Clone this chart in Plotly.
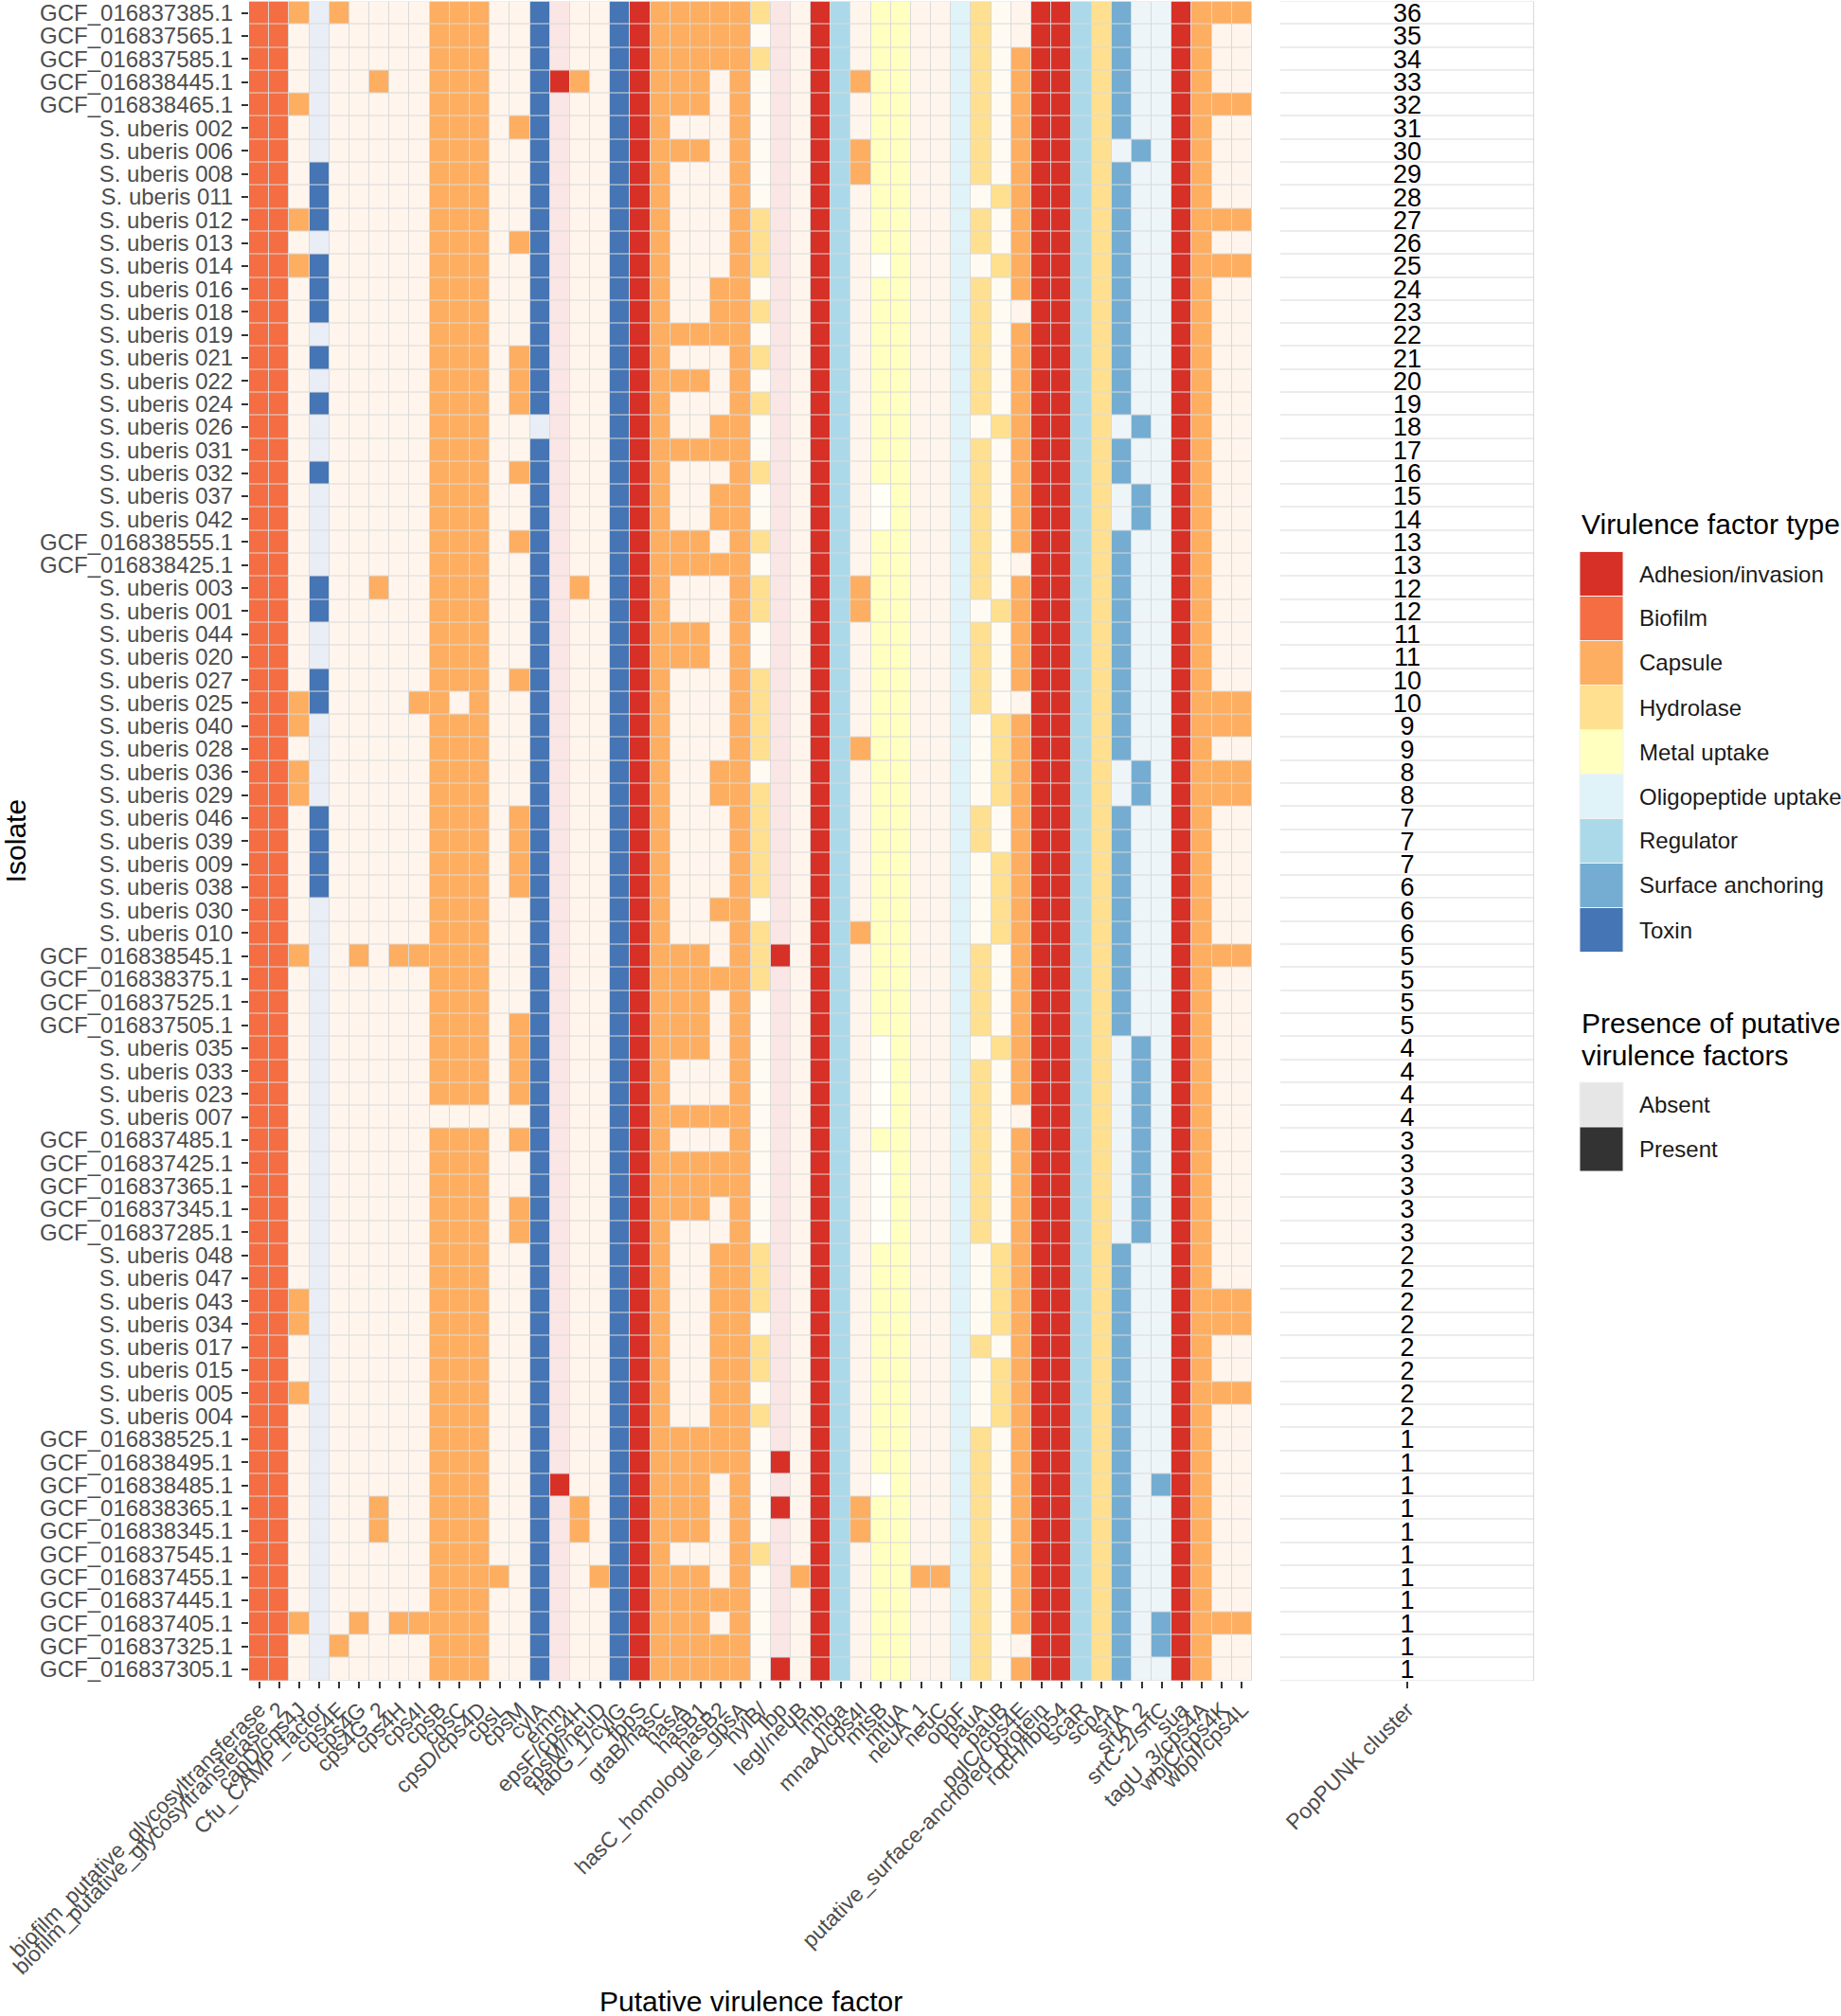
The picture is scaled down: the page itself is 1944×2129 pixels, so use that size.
import plotly.graph_objects as go

W, H = 1944, 2129
FONT = "Liberation Sans, Arial, Helvetica, sans-serif"

isolates = [
    "GCF_016837385.1", "GCF_016837565.1", "GCF_016837585.1", "GCF_016838445.1", "GCF_016838465.1",
    "S. uberis 002", "S. uberis 006", "S. uberis 008", "S. uberis 011", "S. uberis 012",
    "S. uberis 013", "S. uberis 014", "S. uberis 016", "S. uberis 018", "S. uberis 019",
    "S. uberis 021", "S. uberis 022", "S. uberis 024", "S. uberis 026", "S. uberis 031",
    "S. uberis 032", "S. uberis 037", "S. uberis 042", "GCF_016838555.1", "GCF_016838425.1",
    "S. uberis 003", "S. uberis 001", "S. uberis 044", "S. uberis 020", "S. uberis 027",
    "S. uberis 025", "S. uberis 040", "S. uberis 028", "S. uberis 036", "S. uberis 029",
    "S. uberis 046", "S. uberis 039", "S. uberis 009", "S. uberis 038", "S. uberis 030",
    "S. uberis 010", "GCF_016838545.1", "GCF_016838375.1", "GCF_016837525.1", "GCF_016837505.1",
    "S. uberis 035", "S. uberis 033", "S. uberis 023", "S. uberis 007", "GCF_016837485.1",
    "GCF_016837425.1", "GCF_016837365.1", "GCF_016837345.1", "GCF_016837285.1", "S. uberis 048",
    "S. uberis 047", "S. uberis 043", "S. uberis 034", "S. uberis 017", "S. uberis 015",
    "S. uberis 005", "S. uberis 004", "GCF_016838525.1", "GCF_016838495.1", "GCF_016838485.1",
    "GCF_016838365.1", "GCF_016838345.1", "GCF_016837545.1", "GCF_016837455.1", "GCF_016837445.1",
    "GCF_016837405.1", "GCF_016837325.1", "GCF_016837305.1",
]

clusters = [
    36, 35, 34, 33, 32, 31, 30, 29, 28, 27, 26, 25, 24, 23, 22, 21, 20, 19, 18, 17,
    16, 15, 14, 13, 13, 12, 12, 11, 11, 10, 10, 9, 9, 8, 8, 7, 7, 7, 6, 6,
    6, 5, 5, 5, 5, 4, 4, 4, 4, 3, 3, 3, 3, 3, 2, 2, 2, 2, 2, 2,
    2, 2, 1, 1, 1, 1, 1, 1, 1, 1, 1, 1, 1,
]

factors = [
    "biofilm_putative_glycosyltransferase", "biofilm_putative_glycosyltransferase_2", "capD/cps4J",
    "Cfu_CAMP_factor", "cps4E", "cps4G", "cps4G_2", "cps4H", "cps4I", "cpsB",
    "cpsC", "cpsD/cps4D", "cpsL", "cpsM", "cylA", "emm", "epsF/cps4H", "epsM/neuD",
    "fabG_1/cylG", "fbpS", "gtaB/hasC", "hasA", "hasB1", "hasB2", "hasC_homologue_gpsA",
    "hylB/", "lbp", "legI/neuB", "lmb", "mga", "mnaA/cps4I", "mtsB", "mtuA", "neuA_1",
    "neuC", "oppF", "pauA", "pauB", "pglC/cps4E", "putative_surface-anchored_protein",
    "rqcH/fbp54", "scaR", "scpA", "srtA", "srtA_2", "srtC-2/srtC", "sua", "tagU_3/cps4A",
    "wbjC/cps4K", "wbpI/cps4L",
]

factor_types = [
    "Biofilm", "Biofilm", "Capsule", "Toxin", "Capsule", "Capsule", "Capsule", "Capsule", "Capsule", "Capsule",
    "Capsule", "Capsule", "Capsule", "Capsule", "Toxin", "Adhesion/invasion", "Capsule", "Capsule",
    "Toxin", "Adhesion/invasion", "Capsule", "Capsule", "Capsule", "Capsule", "Capsule",
    "Hydrolase", "Adhesion/invasion", "Capsule", "Adhesion/invasion", "Regulator", "Capsule",
    "Metal uptake", "Metal uptake", "Capsule", "Capsule", "Oligopeptide uptake", "Hydrolase",
    "Hydrolase", "Capsule", "Adhesion/invasion", "Adhesion/invasion", "Regulator", "Hydrolase",
    "Surface anchoring", "Surface anchoring", "Surface anchoring", "Adhesion/invasion", "Capsule",
    "Capsule", "Capsule",
]

type_order = ["Adhesion/invasion", "Biofilm", "Capsule", "Hydrolase", "Metal uptake",
              "Oligopeptide uptake", "Regulator", "Surface anchoring", "Toxin"]
type_colors = ["#D73027", "#F46D43", "#FDAE61", "#FEE090", "#FFFFBF",
               "#E0F3F8", "#ABD9E9", "#74ADD1", "#4575B4"]
presence_labels = ["Absent", "Present"]
presence_key_colors = ["#E6E6E6", "#333333"]

# one string per isolate, one character per virulence factor (1 = present, 0 = absent)
presence_rows = [
    "1110100001 1100100011 1111110011 0110011001 1111001111",
    "1100000001 1100100011 1111100011 0110011001 1111001100",
    "1100000001 1100100011 1111110011 0110011011 1111001100",
    "1100001001 1100111011 1110100011 1110011011 1111001100",
    "1110000001 1100100011 1110100011 0110011011 1111001111",
    "1100000001 1101100011 1000100011 0110011011 1111001100",
    "1100000001 1100100011 1110100011 1110011011 1110101100",
    "1101000001 1100100011 1000100011 1110011011 1111001100",
    "1101000001 1100100011 1000100011 0110010111 1111001100",
    "1111000001 1100100011 1000110011 0110011011 1111001111",
    "1100000001 1101100011 1000110011 0110011011 1111001100",
    "1111000001 1100100011 1000110011 0010010111 1111001111",
    "1101000001 1100100011 1001100011 0110011011 1111001100",
    "1101000001 1100100011 1001110011 0110011001 1111001100",
    "1100000001 1100100011 1111100011 0110011011 1111001100",
    "1101000001 1101100011 1000110011 0110011011 1111001100",
    "1100000001 1101100011 1110100011 0110011011 1111001100",
    "1101000001 1101100011 1000110011 0110011011 1111001100",
    "1100000001 1100000011 1001100011 0110010111 1110101100",
    "1100000001 1100100011 1111100011 0110011011 1111001100",
    "1101000001 1101100011 1000110011 0110011011 1111001100",
    "1100000001 1100100011 1001100011 0010011011 1110101100",
    "1100000001 1100100011 1001100011 0010011011 1110101100",
    "1100000001 1101100011 1110110011 0110011011 1111001100",
    "1100000001 1100100011 1111100011 0110011001 1111001100",
    "1101001001 1100101011 1000110011 1110011011 1111001100",
    "1101000001 1100100011 1000110011 1110010111 1111001100",
    "1100000001 1100100011 1110100011 0110011011 1111001100",
    "1100000001 1100100011 1110100011 0110011011 1111001100",
    "1101000001 1101100011 1000110011 0110011011 1111001100",
    "1111000011 0100100011 1000110011 0110011001 1111001111",
    "1110000001 1100100011 1000110011 0110010111 1111001111",
    "1100000001 1100100011 1000110011 1110010111 1111001100",
    "1110000001 1100100011 1001100011 0110010111 1110101111",
    "1110000001 1100100011 1001110011 0110010111 1110101111",
    "1101000001 1101100011 1000110011 0110011011 1111001100",
    "1101000001 1101100011 1000110011 0110011011 1111001100",
    "1101000001 1101100011 1000110011 0110010111 1111001100",
    "1101000001 1101100011 1000110011 0110010111 1111001100",
    "1100000001 1100100011 1001100011 0110010111 1111001100",
    "1100000001 1100100011 1000110011 1110010111 1111001100",
    "1110010111 1100100011 1110111011 0110011011 1111001111",
    "1100000001 1100100011 1111110011 0110011011 1111001100",
    "1100000001 1100100011 1110100011 0110011011 1111001100",
    "1100000001 1101100011 1110100011 0110011011 1111001100",
    "1100000001 1101100011 1110100011 0010010111 1110101100",
    "1100000001 1101100011 1000100011 0010011011 1110101100",
    "1100000001 1101100011 1000100011 0010011011 1110101100",
    "1100000000 0000100011 1111100011 0010011001 1110101100",
    "1100000001 1101100011 1000100011 0110011011 1110101100",
    "1100000001 1100100011 1111100011 0010011011 1110101100",
    "1100000001 1100100011 1111100011 0010011011 1110101100",
    "1100000001 1101100011 1110100011 0010011011 1110101100",
    "1100000001 1101100011 1000100011 0010011011 1110101100",
    "1100000001 1100100011 1001110011 0110010111 1111001100",
    "1100000001 1100100011 1001110011 0110010111 1111001100",
    "1110000001 1100100011 1001110011 0110010111 1111001111",
    "1110000001 1100100011 1001100011 0110010111 1111001111",
    "1100000001 1100100011 1001110011 0110011011 1111001100",
    "1100000001 1100100011 1001110011 0110010111 1111001100",
    "1110000001 1100100011 1001100011 0110010111 1111001111",
    "1100000001 1100100011 1001110011 0110010111 1111001100",
    "1100000001 1100100011 1111100011 0110011011 1111001100",
    "1100000001 1100100011 1111101011 0110011011 1111001100",
    "1100000001 1100110011 1110100011 0010011011 1111011100",
    "1100001001 1100101011 1110101011 1110011011 1111001100",
    "1100001001 1100101011 1110100011 1110011011 1111001100",
    "1100000001 1100100011 1000110011 0110011011 1111001100",
    "1100000001 1110100111 1110100111 0111111011 1111001100",
    "1100000001 1100100011 1111100011 0110011011 1111001100",
    "1110010111 1100100011 1110100011 0110011011 1111011111",
    "1100100001 1100100011 1111100011 0110011001 1111011100",
    "1100000001 1100100011 1111101011 0110011011 1111001100",
]


def fade(hexcol, alpha=0.12):
    h = hexcol.lstrip("#")
    r, g, b = (int(h[i:i + 2], 16) for i in (0, 2, 4))
    mix = lambda c: round(255 * (1 - alpha) + c * alpha)
    return "#%02X%02X%02X" % (mix(r), mix(g), mix(b))


# discrete colour scale: code = 2 * type_index + presence
ncodes = 2 * len(type_order)
colorscale = []
for k in range(ncodes):
    t, p = divmod(k, 2)
    col = type_colors[t] if p == 1 else fade(type_colors[t])
    colorscale.append([k / ncodes, col])
    colorscale.append([(k + 1) / ncodes, col])

z, hover = [], []
for iso, row in zip(isolates, presence_rows):
    bits = row.replace(" ", "")
    zr, hr = [], []
    for f, ftype, b in zip(factors, factor_types, bits):
        p = int(b)
        zr.append(2 * type_order.index(ftype) + p)
        hr.append(f"{iso}<br>{f}<br>{ftype}<br>{presence_labels[p]}")
    z.append(zr)
    hover.append(hr)

# pixel -> paper helpers
px = lambda x: x / W
py = lambda y: 1 - y / H

PANEL_TOP, PANEL_BOT = 1.5, 1775
HM_L, HM_R = 263, 1322
CL_L, CL_R = 1352, 1620
n = len(isolates)

fig = go.Figure()
fig.add_trace(go.Heatmap(
    x=factors, y=isolates, z=z, text=hover, hoverinfo="text",
    colorscale=colorscale, zmin=-0.5, zmax=ncodes - 0.5, showscale=False,
    xgap=1, ygap=1, xaxis="x", yaxis="y",
))
fig.add_trace(go.Heatmap(
    x=["PopPUNK cluster"], y=isolates, z=[[c] for c in clusters],
    text=[[str(c)] for c in clusters], texttemplate="%{text}",
    textfont=dict(family=FONT, size=27, color="#000000"),
    colorscale=[[0, "#FFFFFF"], [1, "#FFFFFF"]], showscale=False,
    xgap=1, ygap=1, xaxis="x2", yaxis="y2", hoverinfo="y+z",
))

tickfont = dict(family=FONT, size=24, color="#4D4D4D")
xtickfont = dict(family=FONT, size=23, color="#4D4D4D")
common_x = dict(showgrid=False, zeroline=False, showline=False, ticks="outside",
                ticklen=7, tickwidth=1.5, tickcolor="#333333", tickangle=-45,
                tickfont=xtickfont, fixedrange=True, automargin=False)
common_y = dict(showgrid=False, zeroline=False, showline=False, type="category",
                categoryorder="array", categoryarray=isolates,
                range=[n - 0.5, -0.5], fixedrange=True, automargin=False,
                domain=[py(PANEL_BOT), py(PANEL_TOP)])

fig.update_layout(
    width=W, height=H,
    margin=dict(l=0, r=0, t=0, b=0),
    paper_bgcolor="#FFFFFF", plot_bgcolor="#D9D9D9",
    font=dict(family=FONT),
    showlegend=False,
    xaxis=dict(domain=[px(HM_L), px(HM_R)], anchor="y", type="category",
               tickmode="array", tickvals=factors, ticktext=factors,
               categoryorder="array", categoryarray=factors, **common_x),
    yaxis=dict(anchor="x", ticks="outside", ticklen=7, tickwidth=1.5,
               tickcolor="#333333", tickfont=tickfont, ticklabelstandoff=4,
               tickmode="array", tickvals=isolates, ticktext=isolates, **common_y),
    xaxis2=dict(domain=[px(CL_L), px(CL_R)], anchor="y2", type="category",
                tickmode="array", tickvals=["PopPUNK cluster"], ticktext=["PopPUNK cluster"],
                **common_x),
    yaxis2=dict(anchor="x2", showticklabels=False, ticks="", **common_y),
)

annotations = [
    dict(text="Isolate", x=px(16), y=py((PANEL_TOP + PANEL_BOT) / 2), textangle=-90,
         font=dict(size=30, color="#000000", family=FONT)),
    dict(text="Putative virulence factor", x=px((HM_L + HM_R) / 2), y=py(2113),
         font=dict(size=30, color="#000000", family=FONT)),
    dict(text="Virulence factor type", x=px(1668), y=py(554), xanchor="left",
         font=dict(size=30, color="#000000", family=FONT)),
    dict(text="Presence of putative", x=px(1668), y=py(1080), xanchor="left",
         font=dict(size=30, color="#000000", family=FONT)),
    dict(text="virulence factors", x=px(1668), y=py(1114), xanchor="left",
         font=dict(size=30, color="#000000", family=FONT)),
]
shapes = []
KEY_L, KEY_R, KEY_H = 1668, 1714, 47
for i, (lab, col) in enumerate(zip(type_order, type_colors)):
    y0 = 582.5 + i * KEY_H
    shapes.append(dict(type="rect", xref="paper", yref="paper", x0=px(KEY_L), x1=px(KEY_R),
                       y0=py(y0 + KEY_H), y1=py(y0), fillcolor=col,
                       line=dict(color="#F2F2F2", width=1)))
    annotations.append(dict(text=lab, x=px(1729), y=py(y0 + KEY_H / 2), xanchor="left",
                            font=dict(size=24, color="#1A1A1A", family=FONT)))
for i, (lab, col) in enumerate(zip(presence_labels, presence_key_colors)):
    y0 = 1143 + i * KEY_H
    shapes.append(dict(type="rect", xref="paper", yref="paper", x0=px(KEY_L), x1=px(KEY_R),
                       y0=py(y0 + KEY_H), y1=py(y0), fillcolor=col,
                       line=dict(color="#F2F2F2", width=1)))
    annotations.append(dict(text=lab, x=px(1729), y=py(y0 + KEY_H / 2), xanchor="left",
                            font=dict(size=24, color="#1A1A1A", family=FONT)))

for a in annotations:
    a.update(xref="paper", yref="paper", showarrow=False)
    a.setdefault("xanchor", "center")
    a.setdefault("yanchor", "middle")

fig.update_layout(annotations=annotations, shapes=shapes)
fig.write_html(
    "out.html",
    config={"displayModeBar": False},
    post_script="document.body.style.margin='0px';document.body.style.overflow='hidden';",
)
